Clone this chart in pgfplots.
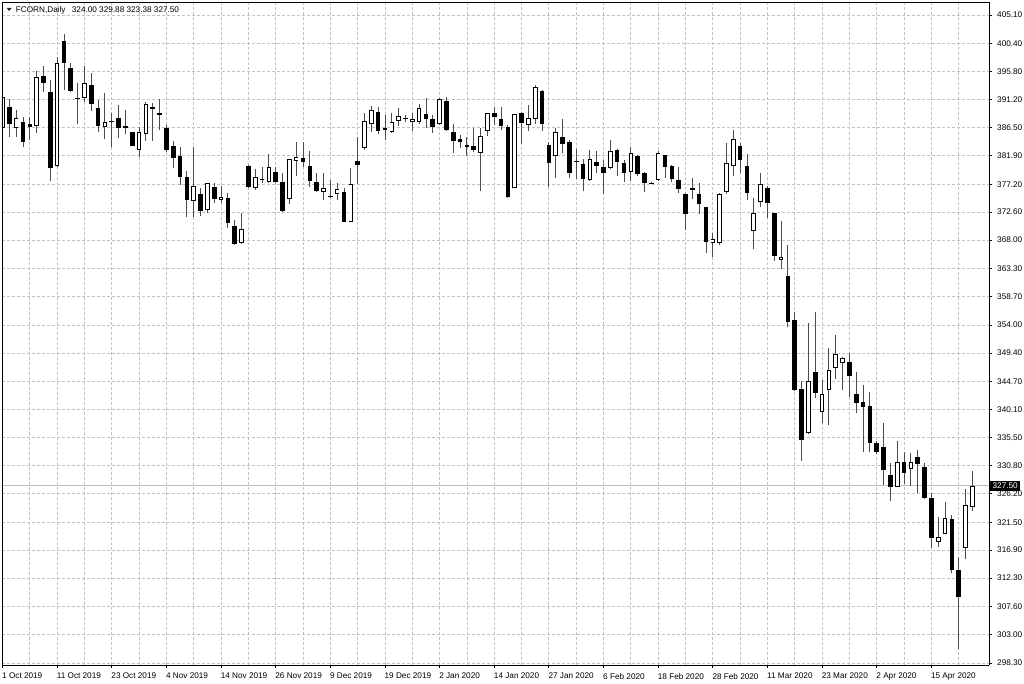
\documentclass[border=0pt]{standalone}
\usepackage{pgfplots}
\pgfplotsset{compat=1.18}
\usepackage{pgfplotstable}
\usepackage{fontspec}
\setmainfont{Liberation Sans}

\pgfplotstableread{
i o h l c t
0 386.42 391.90 384.90 391.64 1
1 389.99 391.20 384.99 387.13 0
2 386.42 389.44 385.00 388.18 1
3 387.52 388.34 383.40 384.11 0
4 387.08 388.34 384.50 386.69 0
5 386.80 395.92 385.70 394.83 1
6 395.10 396.69 392.46 393.84 0
7 392.35 394.39 377.79 379.94 0
8 380.26 398.12 380.10 397.13 1
9 400.81 401.97 392.74 397.13 0
10 396.42 397.20 392.40 392.63 0
11 391.45 393.84 387.13 391.30 0
12 391.47 396.69 390.81 393.84 1
13 393.56 395.48 389.28 390.37 0
14 389.72 391.09 385.87 386.80 0
15 386.58 392.30 384.61 387.41 1
16 387.63 388.89 383.40 387.41 0
17 388.07 390.21 384.88 386.42 0
18 386.80 389.44 385.43 386.42 0
19 385.76 385.87 383.50 383.56 0
20 382.85 386.69 381.64 385.87 1
21 385.43 390.81 384.39 390.37 1
22 389.88 390.54 384.39 389.61 0
23 388.89 391.20 386.14 388.62 0
24 386.53 386.97 382.57 382.85 0
25 383.56 384.39 379.94 381.47 0
26 381.91 383.40 377.08 378.45 0
27 378.45 379.44 371.86 374.61 0
28 374.44 383.40 371.86 376.91 1
29 375.54 376.53 371.97 372.85 0
30 372.96 377.46 372.41 377.46 1
31 376.69 377.46 374.06 374.77 0
32 374.62 376.91 374.06 375.15 1
33 374.88 375.81 369.94 370.76 0
34 370.37 371.31 367.19 367.35 0
35 367.46 372.41 367.35 369.77 1
36 380.21 380.37 376.53 376.69 0
37 376.53 379.72 376.26 378.45 1
38 378.10 379.99 377.35 377.95 0
39 377.52 382.19 377.35 380.10 1
40 379.28 379.99 377.35 377.63 0
41 377.63 379.00 372.57 372.79 0
42 374.77 381.36 373.89 381.36 1
43 381.09 384.22 378.62 381.64 1
44 381.50 384.22 379.99 380.92 0
45 380.26 382.68 376.80 377.79 0
46 377.52 379.00 375.87 376.14 0
47 375.98 379.00 374.61 376.53 1
48 375.32 377.90 374.88 375.05 0
49 375.59 377.35 374.61 376.42 1
50 375.98 376.53 370.92 370.92 0
51 371.03 379.83 370.92 377.19 1
52 381.09 384.94 377.19 380.37 0
53 383.12 389.00 382.85 387.68 1
54 387.08 390.10 385.87 389.44 1
55 389.17 389.88 385.48 385.98 0
56 386.42 388.62 384.50 386.14 0
57 385.87 389.00 385.70 387.41 1
58 387.63 389.72 386.80 388.45 1
59 388.05 388.60 387.50 387.90 0
60 387.41 389.00 386.03 387.96 1
61 387.52 390.43 387.20 389.72 1
62 388.78 391.36 386.42 387.90 0
63 387.90 388.60 385.70 386.69 0
64 387.08 391.36 386.97 391.20 1
65 390.98 391.53 386.03 386.14 0
66 385.76 387.13 382.30 384.39 0
67 384.61 385.32 383.12 384.11 0
68 383.67 385.05 381.86 383.40 0
69 383.50 386.42 382.57 382.85 0
70 382.41 386.42 376.14 385.15 1
71 386.03 389.00 385.15 389.00 1
72 389.00 389.88 386.97 388.34 0
73 387.96 389.99 386.14 386.80 0
74 386.58 386.97 374.88 375.05 0
75 376.53 388.78 376.53 388.78 1
76 388.89 389.17 383.84 387.35 0
77 386.97 390.26 386.03 388.07 1
78 387.90 393.56 387.13 393.18 1
79 392.63 392.80 386.03 387.13 0
80 383.67 384.22 376.80 380.65 0
81 381.91 386.42 378.18 385.76 1
82 385.05 387.90 382.30 383.84 0
83 384.22 384.50 378.18 379.11 0
84 381.00 382.96 378.01 380.85 0
85 380.48 381.31 376.14 378.07 0
86 377.90 382.85 377.80 381.31 1
87 380.92 382.68 379.00 380.26 0
88 380.10 381.20 375.59 379.11 0
89 379.94 384.50 379.66 382.68 1
90 382.85 383.00 378.56 380.92 0
91 380.65 381.20 377.63 379.11 0
92 379.28 383.29 377.79 382.30 1
93 381.86 382.00 378.56 378.89 0
94 379.05 379.20 375.87 377.46 0
95 377.40 377.50 377.20 377.30 0
96 377.90 382.74 377.80 382.41 1
97 382.02 382.10 378.18 380.10 0
98 380.26 380.40 377.63 378.07 0
99 377.90 379.99 375.81 376.42 0
100 375.59 375.70 369.66 372.24 0
101 376.53 378.18 374.72 376.25 0
102 375.59 377.35 372.30 373.89 0
103 373.40 373.50 365.92 367.74 0
104 367.57 369.11 365.15 368.12 1
105 367.57 375.70 367.19 375.59 1
106 375.98 383.95 375.60 380.65 1
107 380.21 386.14 378.56 384.61 1
108 383.51 383.95 379.11 381.20 0
109 380.21 382.19 374.61 375.81 0
110 369.55 374.88 366.47 372.41 1
111 374.33 379.11 373.51 377.24 1
112 376.53 376.90 371.58 374.17 0
113 372.52 372.52 364.61 365.43 0
114 364.72 371.20 363.18 365.26 1
115 362.08 367.19 353.62 354.55 0
116 354.83 356.20 343.18 343.29 0
117 343.40 344.83 331.64 335.05 0
118 336.14 354.28 336.03 344.83 1
119 346.31 356.20 341.91 342.85 0
120 339.61 344.94 337.79 342.63 1
121 343.29 350.15 337.52 346.58 1
122 346.97 352.35 345.10 349.17 1
123 347.68 348.70 343.29 348.51 1
124 347.96 349.33 342.08 345.59 0
125 342.57 346.20 339.55 341.09 0
126 341.25 344.11 333.12 340.43 0
127 340.70 343.01 333.01 334.61 0
128 334.50 334.80 332.68 333.00 0
129 333.95 337.90 327.63 330.10 0
130 329.28 331.20 325.05 327.35 0
131 327.35 334.94 327.30 331.36 1
132 331.47 333.12 327.79 329.55 0
133 330.21 332.85 327.52 331.36 1
134 332.19 333.40 326.25 331.03 0
135 330.65 331.31 325.30 325.54 0
136 325.43 326.25 317.19 318.84 0
137 318.29 322.41 317.35 319.11 1
138 319.55 324.88 319.50 322.13 1
139 322.02 322.68 313.07 313.62 0
140 313.62 315.81 300.54 309.11 0
141 317.19 326.91 315.37 324.33 1
142 324.00 329.88 323.38 327.50 1
}\candles

\pgfplotsset{
  bodyerr/.style={error bars/.cd, y dir=plus, y explicit, error mark=none},
}

\begin{document}
\begin{tikzpicture}
\useasboundingbox (-2pt,-18pt) rectangle (1022pt,665pt);
\begin{axis}[
  at={(0pt,0pt)}, anchor=south west,
  scale only axis, width=987pt, height=663pt,
  xmin=-0.073, xmax=144.44, ymin=297.96, ymax=407.24,
  axis x line*=bottom, axis y line*=right,
  axis line style={black, line width=0.8pt},
  xtick={0,8,...,136},
  xticklabels={1 Oct 2019, 11 Oct 2019, 23 Oct 2019, 4 Nov 2019, 14 Nov 2019, 26 Nov 2019, 9 Dec 2019, 19 Dec 2019, 2 Jan 2020, 14 Jan 2020, 27 Jan 2020, 6 Feb 2020, 18 Feb 2020, 28 Feb 2020, 11 Mar 2020, 23 Mar 2020, 2 Apr 2020, 15 Apr 2020},
  minor xtick={4,12,...,140},
  ytick={298.30,303.00,307.60,312.30,316.90,321.50,326.20,330.80,335.50,340.10,344.70,349.40,354.00,358.70,363.30,368.00,372.60,377.20,381.90,386.50,391.20,395.80,400.40,405.10},
  yticklabels={298.30,303.00,307.60,312.30,316.90,321.50,326.20,330.80,335.50,340.10,344.70,349.40,354.00,358.70,363.30,368.00,372.60,377.20,381.90,386.50,391.20,395.80,400.40,405.10},
  /pgf/number format/assume math mode=true,
  grid=both,
  major grid style={black!24, line width=0.8pt, dash pattern=on 3pt off 2pt},
  minor grid style={black!24, line width=0.8pt, dash pattern=on 3pt off 2pt},
  tick align=outside, major tick length=3pt, minor tick length=0pt,
  tick style={black, line width=0.8pt},
  ticklabel style={font=\fontsize{8.2}{9.6}\selectfont, text=black},
  xticklabel style={anchor=north west, inner sep=0pt, yshift=-5pt, xshift=-0.5pt},
  yticklabel style={anchor=west, inner sep=0pt, xshift=5pt},
]
% current price line
\addplot[black!25, line width=0.8pt, forget plot] coordinates {(-1,327.5) (146,327.5)};
% wicks
\addplot[draw=none, forget plot, error bars/.cd, y dir=plus, y explicit, error mark=none,
  error bar style={draw=black!70, line width=0.9pt, solid}]
  table[x=i, y=l, y error expr={\thisrow{h}-\thisrow{l}}] {\candles};
% bodies (outline / black)
\addplot[draw=none, forget plot, bodyerr, error bar style={draw=black, line width=4.6pt, solid}]
  table[x=i, y expr={min(\thisrow{o},\thisrow{c})}, y error expr={max(abs(\thisrow{c}-\thisrow{o}),0.18)}] {\candles};
% white interiors
\addplot[draw=none, forget plot, restrict expr to domain={\thisrow{t}}{0.5:1.5}, bodyerr, error bar style={draw=white, line width=2.7pt, solid, shorten <=0.9pt, shorten >=0.9pt}]
  table[x=i, y expr={min(\thisrow{o},\thisrow{c})}, y error expr={max(abs(\thisrow{c}-\thisrow{o}),0.4)}] {\candles};
\draw[black, line width=0.8pt] (rel axis cs:0,0) -- (rel axis cs:0,1) -- (rel axis cs:1,1);
\coordinate (plast) at (axis cs:144.44,327.5);
\end{axis}
\node[fill=black, text=white, anchor=west, inner sep=0pt, minimum height=10pt, minimum width=30pt, font=\fontsize{8.2}{9.6}\selectfont] at ([xshift=1pt]plast) {327.50};
\fill[black!85] (4.7pt,657pt) -- (9.7pt,657pt) -- (7.2pt,654pt) -- cycle;
\node[anchor=base west, inner sep=0pt, font=\fontsize{8.2}{9.6}\selectfont] at (13.7pt,652.7pt) {FCORN,Daily};
\node[anchor=base west, inner sep=0pt, font=\fontsize{8.2}{9.6}\selectfont] at (69.7pt,652.7pt) {324.00 329.88 323.38 327.50};
\end{tikzpicture}
\end{document}
